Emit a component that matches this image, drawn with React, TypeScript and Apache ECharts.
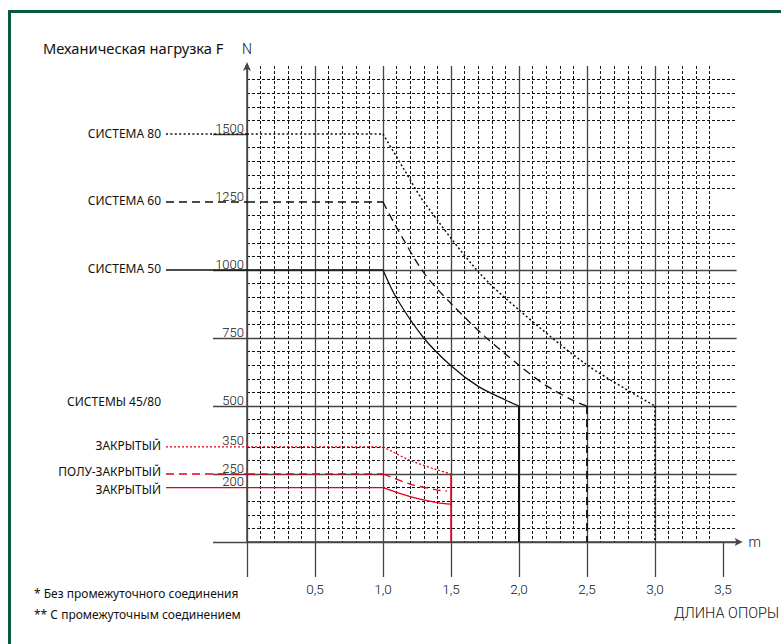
import React, { useEffect, useRef } from "react";
import * as echarts from "echarts";

// ---- axes ----
const X_MAX = 3.6;
const Y_MAX = 1750;
const xMajorTicks = [0, 0.5, 1, 1.5, 2, 2.5, 3, 3.5];
const xTickLabels = [0.5, 1, 1.5, 2, 2.5, 3, 3.5];
const yMajorTicks = [0, 250, 500, 750, 1000, 1500];
const yTickLabels = [250, 350, 500, 750, 1000, 1250, 1500];
const yExtraLabels = [200];

// ---- СИСТЕМА 80 ----
const sys80Lead = [[0, 1500], [1.0, 1500]];
const sys80Curve = [[1.0, 1500], [1.15, 1374], [1.3, 1251], [1.7, 994], [2.0, 853], [2.5, 651], [3.0, 500]];
const sys80Drop = [[3.0, 500], [3.0, 0]];

// ---- СИСТЕМА 60 ----
const sys60Lead = [[0, 1250], [1.0, 1250]];
const sys60Curve = [[1.0, 1250], [1.09, 1165], [1.3, 990], [1.5, 877], [1.75, 755], [2.0, 650], [2.2, 575], [2.4, 520], [2.5, 500]];
const sys60Drop = [[2.5, 500], [2.5, 0]];

// ---- СИСТЕМА 50 ----
const sys50Lead = [[0, 1000], [1.0, 1000]];
const sys50Curve = [[1.0, 1000], [1.1, 896], [1.3, 750], [1.5, 648], [1.7, 572], [1.9, 522], [2.0, 500]];
const sys50Drop = [[2.0, 500], [2.0, 0]];

// ---- red (cover types) ----
const closedDotLead = [[0, 350], [1.0, 350]];
const closedDotCurve = [[1.0, 350], [1.2, 300], [1.4, 265], [1.5, 250]];
const semiLead = [[0, 250], [1.0, 250]];
const semiCurve = [[1.0, 250], [1.2, 213], [1.4, 191], [1.47, 187]];
const closedLead = [[0, 200], [1.0, 200]];
const closedCurve = [[1.0, 200], [1.2, 167], [1.4, 145], [1.5, 139]];
const redEdge = [[1.5, 250], [1.5, 0]];

// ---- left labels ----
const leftNames = ["СИСТЕМА 80", "СИСТЕМА 60", "СИСТЕМА 50", "СИСТЕМЫ 45/80", "ЗАКРЫТЫЙ", "ПОЛУ-ЗАКРЫТЫЙ", "ЗАКРЫТЫЙ"];
const leftLevels = [1500, 1250, 1000, 500, 350, 250, 200];

const footnotes = ["* Без промежуточного соединения", "** С промежуточным соединением"];

const RED = "#e3001b";
const INK = "#111";
const GRID = "#454545";
const DOT = [2, 2.4];
const DASH = [8, 5];
const RDOT = [2, 2];

const SANS = '"Noto Sans", "DejaVu Sans", sans-serif';
const LIGHT = 'Roboto, "Liberation Sans", sans-serif';

function ln(data: number[][], color: string, type: any, width: number, smooth: number | boolean = false) {
  return {
    type: "line",
    data,
    symbol: "none",
    smooth,
    silent: true,
    clip: false,
    z: 5,
    emphasis: { disabled: true },
    lineStyle: { color, type, width },
  };
}

const yLabelStyle = {
  show: true,
  hideOverlap: false,
  margin: 3,
  verticalAlign: "bottom",
  fontFamily: LIGHT,
  fontWeight: 300,
  fontSize: 13,
  lineHeight: 12,
  color: INK,
  formatter: (v: number) => String(v),
};

export default function App() {
  const ref = useRef<HTMLDivElement>(null);
  useEffect(() => {
    const chart = echarts.init(ref.current!, null, { renderer: "svg" });
    const option: any = {
      animation: false,
      backgroundColor: "#fff",
      textStyle: { fontFamily: SANS },
      grid: {
        left: 247,
        top: 66,
        width: 136 * X_MAX,
        height: 476,
        outerBoundsMode: "none",
        containLabel: false,
      },
      xAxis: {
        type: "value",
        min: 0,
        max: X_MAX,
        interval: 0.5,
        name: "m",
        nameLocation: "end",
        nameGap: 12,
        nameTextStyle: { fontFamily: LIGHT, fontWeight: 300, fontSize: 14, color: INK, verticalAlign: "middle" },
        axisLine: {
          show: true,
          onZero: false,
          symbol: ["none", "arrow"],
          symbolSize: [6, 8],
          symbolOffset: [0, 6],
          lineStyle: { color: GRID, width: 1.5 },
        },
        axisTick: { show: true, inside: false, length: 35, customValues: xMajorTicks, lineStyle: { color: GRID, width: 1.3 } },
        axisLabel: {
          show: true,
          customValues: xTickLabels,
          hideOverlap: false,
          margin: 40,
          fontFamily: LIGHT,
          fontWeight: 300,
          fontSize: 13.5,
          color: INK,
          formatter: (v: number) => v.toFixed(1).replace(".", ","),
        },
        splitLine: { show: true, showMaxLine: false, lineStyle: { color: GRID, width: 1.3 } },
        minorTick: { show: false, splitNumber: 5 },
        minorSplitLine: { show: true, lineStyle: { color: INK, width: 1, type: [3, 2] } },
      },
      yAxis: [
        {
          type: "value",
          min: 0,
          max: Y_MAX,
          interval: 250,
          name: "N",
          nameLocation: "end",
          nameGap: 10,
          nameTextStyle: { fontFamily: LIGHT, fontWeight: 300, fontSize: 14, color: INK },
          axisLine: {
            show: true,
            onZero: false,
            symbol: ["none", "arrow"],
            symbolSize: [6, 9],
            symbolOffset: [0, 4],
            lineStyle: { color: GRID, width: 1.5 },
          },
          axisTick: { show: true, inside: false, length: 34, customValues: yMajorTicks, lineStyle: { color: GRID, width: 1.3 } },
          axisLabel: { ...yLabelStyle, customValues: yTickLabels },
          splitLine: { show: true, showMaxLine: false, lineStyle: { color: GRID, width: 1.3 } },
          minorTick: { show: false, splitNumber: 5 },
          minorSplitLine: { show: true, lineStyle: { color: INK, width: 1, type: [3, 2] } },
        },
        {
          type: "value",
          position: "left",
          min: 0,
          max: Y_MAX,
          interval: 250,
          axisLine: { show: false },
          axisTick: { show: false },
          splitLine: { show: false },
          axisLabel: { ...yLabelStyle, customValues: yExtraLabels },
        },
      ],
      series: [
        ln(sys80Lead, INK, DOT, 1.5),
        ln(sys80Curve, INK, DOT, 1.5, 0.3),
        ln(sys80Drop, INK, DOT, 1.8),
        ln(sys60Lead, INK, DASH, 1.3),
        ln(sys60Curve, INK, DASH, 1.3, 0.3),
        ln(sys60Drop, INK, DASH, 1.8),
        ln(sys50Lead, INK, "solid", 1.3),
        ln(sys50Curve, INK, "solid", 1.3, 0.3),
        ln(sys50Drop, INK, "solid", 2),
        ln(closedDotLead, RED, RDOT, 1.3),
        ln(closedDotCurve, RED, RDOT, 1.3, 0.3),
        ln(semiLead, RED, DASH, 1.3),
        ln(semiCurve, RED, DASH, 1.3, 0.3),
        ln(closedLead, RED, "solid", 1.3),
        ln(closedCurve, RED, "solid", 1.3, 0.3),
        ln(redEdge, RED, "solid", 1.5),
      ],
    };
    chart.setOption(option);

    const axisX = chart.convertToPixel({ gridIndex: 0 }, [0, 0])[0];
    const py = (v: number) => chart.convertToPixel({ gridIndex: 0 }, [0, v])[1];
    const leaderStyles: any[] = [
      { stroke: INK, lineDash: DOT },
      { stroke: INK, lineDash: DASH },
      { stroke: INK },
      null,
      { stroke: RED, lineDash: RDOT },
      { stroke: RED, lineDash: DASH },
      { stroke: RED },
    ];
    const labelShift = [-1, -2, -2, -5, -1, -2.5, 1.5];
    const graphic: any[] = [
      {
        type: "rect",
        silent: true,
        shape: { x: 9.5, y: 11.5, width: 900, height: 800 },
        style: { fill: "none", stroke: "#0b5b3a", lineWidth: 3 },
      },
      {
        type: "text",
        x: 43,
        y: 48,
        style: { text: "Механическая нагрузка F", fontFamily: SANS, fontSize: 14.7, fill: INK, verticalAlign: "middle", align: "left" },
      },
      {
        type: "text",
        x: 674,
        y: 613,
        style: { text: "ДЛИНА ОПОРЫ", fontFamily: LIGHT, fontWeight: 300, fontSize: 14.5, fill: INK, verticalAlign: "middle", align: "left" },
      },
    ];
    footnotes.forEach((t, i) => {
      graphic.push({
        type: "text",
        x: 34,
        y: 593 + i * 21,
        style: { text: t, fontFamily: SANS, fontSize: 12, fill: INK, verticalAlign: "middle", align: "left" },
      });
    });
    leftNames.forEach((name, i) => {
      const y = py(leftLevels[i]);
      const st = leaderStyles[i];
      graphic.push({
        type: "text",
        x: 161,
        y: y + labelShift[i],
        style: { text: name, fontFamily: SANS, fontSize: 12, fill: INK, verticalAlign: "middle", align: "right" },
      });
      if (st) {
        graphic.push({
          type: "line",
          silent: true,
          z: 6,
          shape: { x1: 166, y1: y, x2: axisX, y2: y },
          style: { lineWidth: 1.3, ...st },
        });
      }
    });
    chart.setOption({ graphic });

    return () => chart.dispose();
  }, []);
  return (
    <div
      ref={ref}
      style={{ position: "fixed", left: 0, top: 0, width: 781, height: 644, background: "#fff" }}
    />
  );
}
